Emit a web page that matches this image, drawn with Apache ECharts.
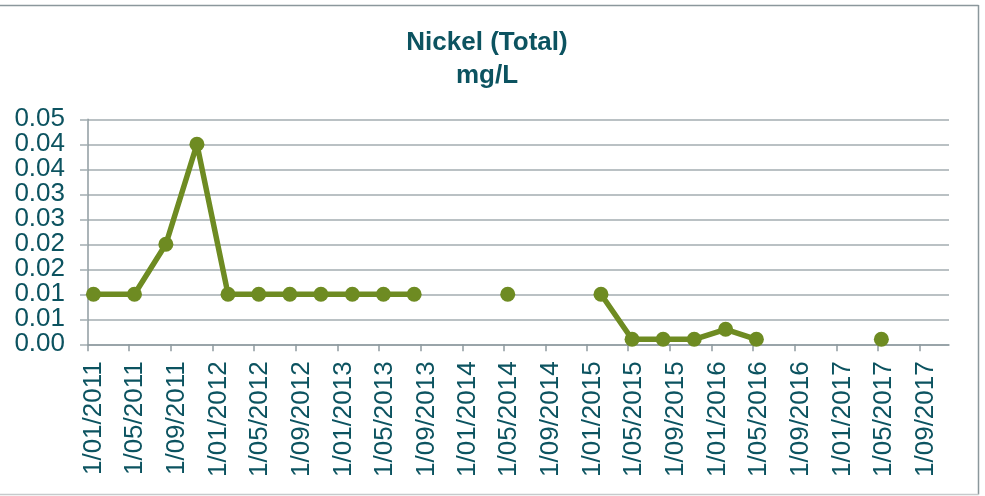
<!DOCTYPE html>
<html>
<head>
<meta charset="utf-8">
<script src="https://cdn.jsdelivr.net/npm/echarts@6/dist/echarts.min.js"></script>
<style>
  html, body { margin: 0; padding: 0; background: #ffffff; }
  #chart { width: 985px; height: 496px; }
</style>
</head>
<body>
<div id="chart"></div>
<script>
// Sampling dates (ISO strings)
var sampleDates = [
  '2011-01-17', '2011-05-17', '2011-08-17', '2011-11-16',
  '2012-02-15', '2012-05-15', '2012-08-14', '2012-11-13',
  '2013-02-13', '2013-05-15', '2013-08-13', '2013-11-13',
  '2014-05-14', '2014-08-13',
  '2015-02-11', '2015-05-13', '2015-08-12', '2015-11-11',
  '2016-02-11', '2016-05-11', '2016-08-10',
  '2017-05-12'
];
// Nickel (total) concentration in mg/L; null = no result (breaks the line)
var nickelValues = [
  0.01, 0.01, 0.02, 0.04,
  0.01, 0.01, 0.01, 0.01,
  0.01, 0.01, 0.01, null,
  0.01, null,
  0.01, 0.001, 0.001, 0.001,
  0.003, 0.001, null,
  0.001
];
// Date axis labels, every four months
var xTickLabels = [
  '1/01/2011', '1/05/2011', '1/09/2011',
  '1/01/2012', '1/05/2012', '1/09/2012',
  '1/01/2013', '1/05/2013', '1/09/2013',
  '1/01/2014', '1/05/2014', '1/09/2014',
  '1/01/2015', '1/05/2015', '1/09/2015',
  '1/01/2016', '1/05/2016', '1/09/2016',
  '1/01/2017', '1/05/2017', '1/09/2017'
];
// Value axis labels (two decimals, steps of 0.005)
var yTickLabels = ['0.00', '0.01', '0.01', '0.02', '0.02', '0.03', '0.03', '0.04', '0.04', '0.05'];
var yStep = 0.005;
var yMax = 0.045;

function isoToTime(s) {
  var p = s.split('-');
  return new Date(+p[0], +p[1] - 1, +p[2]).getTime();
}
function dmyToTime(s) {
  var p = s.split('/');
  return new Date(+p[2], +p[1] - 1, +p[0]).getTime();
}

var xTickValues = xTickLabels.map(dmyToTime);
var seriesData = sampleDates.map(function (d, i) {
  return [isoToTime(d), nickelValues[i] == null ? '-' : nickelValues[i]];
});

var textColor = '#0c5360';
var gridColor = '#a3adb1';
var axisColor = '#8f9ba0';
var font = 'Liberation Sans, Arial, sans-serif';

function yLabel(v) {
  return yTickLabels[Math.round(v / yStep)];
}
var yLabelStyle = {
  margin: 23,
  color: textColor,
  fontFamily: font,
  fontSize: 26,
  formatter: yLabel
};

var chart = echarts.init(document.getElementById('chart'), null, { renderer: 'canvas' });
chart.setOption({
  animation: false,
  backgroundColor: '#ffffff',
  title: {
    text: 'Nickel (Total)\nmg/L',
    left: 487,
    top: 26,
    textAlign: 'center',
    padding: 0,
    textStyle: {
      color: textColor,
      fontFamily: font,
      fontWeight: 'bold',
      fontSize: 26,
      lineHeight: 33
    }
  },
  grid: { left: 88, right: 36, top: 119.3, bottom: 151.7 },
  xAxis: {
    // dates as epoch milliseconds on a linear scale
    type: 'value',
    min: new Date(2011, 0, 1).getTime(),
    max: new Date(2017, 10, 26).getTime(),
    axisLine: { show: true, onZero: false, lineStyle: { color: axisColor, width: 1.5 } },
    axisTick: { show: true, length: 7, customValues: xTickValues, lineStyle: { color: axisColor, width: 1.5 } },
    splitLine: { show: false },
    axisLabel: {
      customValues: xTickValues,
      rotate: 90,
      margin: 17,
      color: textColor,
      fontFamily: font,
      fontSize: 26,
      // a thin empty first line nudges each date to the right of its tick
      formatter: function (v) {
        var i = xTickValues.indexOf(v);
        return i >= 0 ? '{gap| }\n{d|' + xTickLabels[i] + '}' : '';
      },
      rich: {
        gap: { fontSize: 4, lineHeight: 12, height: 12 },
        d: { fontSize: 26, lineHeight: 30, color: textColor, fontFamily: font }
      }
    }
  },
  yAxis: [{
    // main value axis: grid, line and the inner labels
    type: 'value',
    min: 0,
    max: yMax,
    interval: yStep,
    axisLine: { show: true, lineStyle: { color: axisColor, width: 1.5 } },
    axisTick: { show: true, length: 8, lineStyle: { color: gridColor, width: 1.5 } },
    splitLine: { show: true, lineStyle: { color: gridColor, width: 1.5 } },
    axisLabel: Object.assign({ showMinLabel: false, showMaxLabel: false }, yLabelStyle)
  }, {
    // end labels (0.00 and top) on the same scale
    type: 'value',
    position: 'left',
    min: 0,
    max: yMax,
    interval: yStep,
    axisLine: { show: false },
    splitLine: { show: false },
    axisTick: { show: true, length: 8, customValues: [0, yMax], lineStyle: { color: gridColor, width: 1.5 } },
    axisLabel: Object.assign({ customValues: [0, yMax] }, yLabelStyle)
  }],
  series: [{
    type: 'line',
    yAxisIndex: 0,
    data: seriesData,
    connectNulls: false,
    symbol: 'circle',
    symbolSize: 15,
    lineStyle: { color: '#6e8b22', width: 5.5 },
    itemStyle: { color: '#6e8b22' },
    z: 3
  }],
  graphic: [
    { type: 'line', shape: { x1: 0, y1: 5.5, x2: 978.5, y2: 5.5 }, style: { stroke: '#8b979c', lineWidth: 1.5 } },
    { type: 'line', shape: { x1: 978.5, y1: 5, x2: 978.5, y2: 494.5 }, style: { stroke: '#8b979c', lineWidth: 1.5 } },
    { type: 'line', shape: { x1: 0, y1: 494.5, x2: 978.5, y2: 494.5 }, style: { stroke: '#c6cacc', lineWidth: 1.5 } }
  ]
});
</script>
</body>
</html>
